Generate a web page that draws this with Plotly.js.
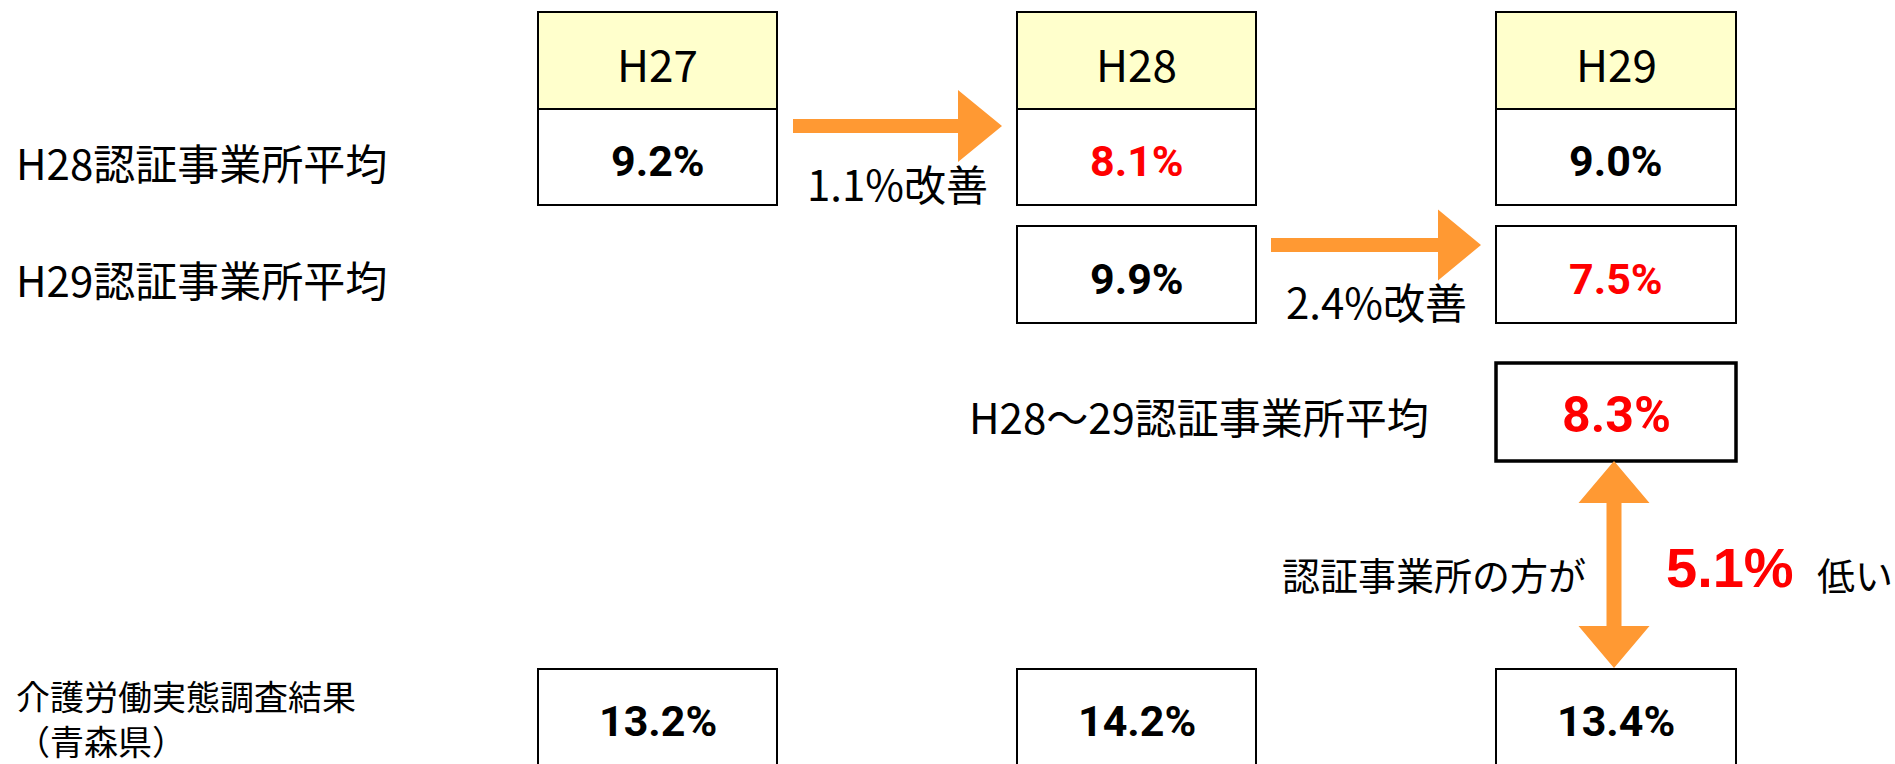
<!DOCTYPE html>
<html>
<head>
<meta charset="utf-8">
<script src="https://cdn.plot.ly/plotly-3.0.1.min.js"></script>
<style>html,body{margin:0;padding:0;background:#fff;}#chart{width:1895px;height:764px;}</style>
</head>
<body>
<div id="chart"></div>
<script>
// ---- data ----
const years = ['H27', 'H28', 'H29'];
const h28CohortRates = [9.2, 8.1, 9.0];      // H28認証事業所平均
const h29CohortRates = [null, 9.9, 7.5];     // H29認証事業所平均
const cohortAverage = 8.3;                   // H28～29認証事業所平均
const surveyRates = [13.2, 14.2, 13.4];      // 介護労働実態調査結果（青森県）
const improvements = [1.1, 2.4];             // 改善幅
const gap = 5.1;                             // 認証事業所の方が低い差
const rowLabels = ['H28認証事業所平均', 'H29認証事業所平均', 'H28～29認証事業所平均'];
const surveyLabel = ['介護労働実態調査結果', '（青森県）'];

// ---- layout constants (pixel space of the 1895x764 page) ----
const FONT = '"Noto Sans CJK JP", "Noto Sans", sans-serif';
const NUMFONT = 'Roboto, "Liberation Sans", sans-serif';
const WIDEFONT = '"Liberation Sans", Arial, sans-serif';
const colX = [[538, 777], [1017, 1256], [1496, 1736]];
const rowHeader = [12, 109], row1 = [109, 205], row2 = [226, 323], rowAvg = [363, 461], rowSurvey = [669, 766];
const ORANGE = '#FF9933', YELLOW = '#FFFFCC', RED = '#FF0000';

const shapes = [];
const annotations = [];
function rect(xs, ys, fill, w) {
  shapes.push({type: 'rect', xref: 'x', yref: 'y', x0: xs[0], x1: xs[1], y0: ys[0], y1: ys[1],
    fillcolor: fill, line: {color: '#000', width: w || 2}, layer: 'below'});
}
function txt(x, y, text, size, opts) {
  opts = opts || {};
  annotations.push({x: x, y: y, xref: 'x', yref: 'y', text: text, showarrow: false,
    xanchor: opts.xanchor || 'center', yanchor: 'middle',
    font: {family: opts.family || FONT, size: size, color: opts.color || '#000', weight: opts.bold ? 700 : 400}});
}
const mid = a => (a[0] + a[1]) / 2;
const pct = v => v.toFixed(1) + '%';

years.forEach((yr, i) => {
  rect(colX[i], rowHeader, YELLOW);
  txt(mid(colX[i]), mid(rowHeader) + 2, yr, 44);
  rect(colX[i], row1, '#fff');
  txt(mid(colX[i]), mid(row1) + 4, pct(h28CohortRates[i]), 43, {bold: true, family: NUMFONT, color: i === 1 ? RED : '#000'});
  if (h29CohortRates[i] != null) {
    rect(colX[i], row2, '#fff');
    txt(mid(colX[i]), mid(row2) + 4, pct(h29CohortRates[i]), 43, {bold: true, family: NUMFONT, color: i === 2 ? RED : '#000'});
  }
  rect(colX[i], rowSurvey, '#fff');
  txt(mid(colX[i]), mid(rowSurvey) + 3, pct(surveyRates[i]), 43, {bold: true, family: NUMFONT});
});
rect(colX[2], rowAvg, '#fff', 3.5);
txt(mid(colX[2]), mid(rowAvg) + 3, pct(cohortAverage), 50, {bold: true, family: NUMFONT, color: RED});

// row labels
txt(14, 161, rowLabels[0], 42, {xanchor: 'left'});
txt(14, 278, rowLabels[1], 42, {xanchor: 'left'});
txt(967, 415, rowLabels[2], 42, {xanchor: 'left'});
txt(14, 695, surveyLabel[0], 34, {xanchor: 'left'});
txt(14, 740, surveyLabel[1], 34, {xanchor: 'left'});

// block arrows
function hArrow(x0, xb, xt, yc, sh, hh) {
  return `M${x0},${yc - sh} L${xb},${yc - sh} L${xb},${yc - hh} L${xt},${yc} L${xb},${yc + hh} L${xb},${yc + sh} L${x0},${yc + sh} Z`;
}
function vDouble(xc, t, tb, bb, b, sw, hw) {
  return `M${xc},${t} L${xc + hw},${tb} L${xc + sw},${tb} L${xc + sw},${bb} L${xc + hw},${bb} L${xc},${b} L${xc - hw},${bb} L${xc - sw},${bb} L${xc - sw},${tb} L${xc - hw},${tb} Z`;
}
[hArrow(793, 958, 1002, 126, 7, 36), hArrow(1271, 1438, 1481, 245, 7, 35.5), vDouble(1614, 461, 503, 626, 668, 7.5, 35.5)]
  .forEach(p => shapes.push({type: 'path', xref: 'x', yref: 'y', path: p, fillcolor: ORANGE, line: {width: 0}}));

// arrow captions
txt(897, 182, pct(improvements[0]) + '改善', 42);
txt(1376, 300, pct(improvements[1]) + '改善', 42);
txt(1588, 573, '認証事業所の方が', 38, {xanchor: 'right'});
txt(1664, 567, pct(gap), 56, {bold: true, family: WIDEFONT, color: RED, xanchor: 'left'});
txt(1815, 573, '低い', 38, {xanchor: 'left'});

const layout = {
  width: 1895, height: 764,
  margin: {l: 0, r: 0, t: 0, b: 0},
  paper_bgcolor: '#fff', plot_bgcolor: '#fff',
  xaxis: {range: [0, 1895], visible: false, fixedrange: true},
  yaxis: {range: [764, 0], visible: false, fixedrange: true},
  showlegend: false,
  shapes: shapes,
  annotations: annotations
};
Plotly.newPlot('chart', [{x: [], y: [], type: 'scatter', hoverinfo: 'skip'}], layout, {staticPlot: true, displayModeBar: false});
</script>
</body>
</html>
